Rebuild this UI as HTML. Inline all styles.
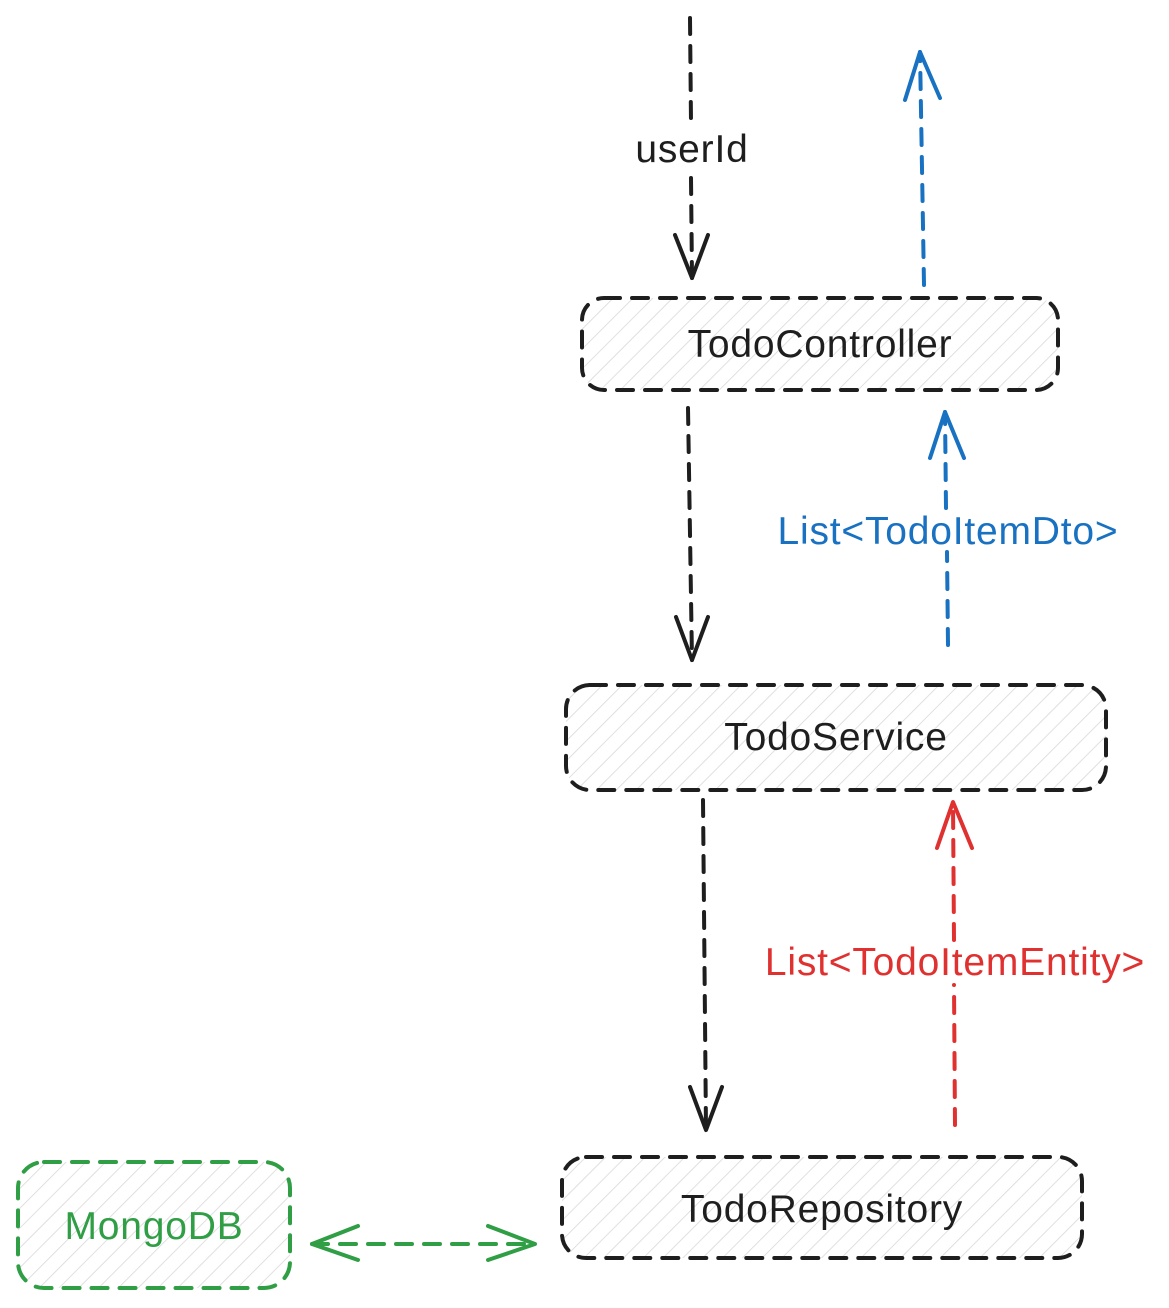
<!DOCTYPE html>
<html><head><meta charset="utf-8"><style>html,body{margin:0;padding:0;background:#fff}svg{display:block}</style></head>
<body>
<svg width="1169" height="1308" viewBox="0 0 1169 1308" xmlns="http://www.w3.org/2000/svg" font-family="Liberation Sans, sans-serif">
<defs>
<pattern id="h" width="14" height="14" patternUnits="userSpaceOnUse" patternTransform="rotate(45)">
<line x1="0" y1="0" x2="0" y2="14" stroke="#d6d6d6" stroke-width="1.5"/>
</pattern>
</defs>
<g stroke-width="4" stroke-dasharray="16 12" fill="url(#h)" stroke-linecap="round">
<rect x="582" y="298" width="476" height="92" rx="22" stroke="#1e1e1e"/>
<rect x="566" y="685" width="540" height="105" rx="24" stroke="#1e1e1e"/>
<rect x="562" y="1157" width="520" height="101" rx="24" stroke="#1e1e1e"/>
<rect x="18" y="1162" width="272" height="126" rx="26" stroke="#2f9e44"/>
</g>
<g font-size="39" letter-spacing="0.8" text-anchor="middle" fill="#1e1e1e">
<text x="820" y="357">TodoController</text>
<text x="836" y="750">TodoService</text>
<text x="822" y="1222">TodoRepository</text>
<text x="154" y="1239" fill="#2f9e44">MongoDB</text>
</g>
<g fill="none" stroke-width="4" stroke-linecap="round" stroke-linejoin="round">
<g stroke="#1e1e1e">
<path d="M690 18 L691 122 M691 178 L692 278" stroke-dasharray="16 12"/>
<path d="M675 235 L692 278 L708 235"/>
<path d="M688 408 L692 660" stroke-dasharray="16 12"/>
<path d="M676 617 L692 660 L708 617"/>
<path d="M703 800 L706 1130" stroke-dasharray="16 12"/>
<path d="M690 1087 L706 1130 L722 1087"/>
</g>
<g stroke="#1971c2">
<path d="M924 285 L920 52" stroke-dasharray="16 12"/>
<path d="M905 100 L920 52 L940 98"/>
<path d="M948 645 L947 552 M946 508 L945 412" stroke-dasharray="16 12"/>
<path d="M930 458 L945 412 L964 458"/>
</g>
<g stroke="#e03131">
<path d="M955 1125 L954 985 M954 940 L953 802" stroke-dasharray="16 12"/>
<path d="M937 848 L953 802 L972 848"/>
</g>
<g stroke="#2f9e44">
<path d="M312 1244 L535 1244" stroke-dasharray="16 12"/>
<path d="M358 1226 L312 1244 L358 1260"/>
<path d="M488 1226 L535 1244 L488 1260"/>
</g>
</g>
<g font-size="39" letter-spacing="0.8" text-anchor="middle">
<text x="692" y="162" fill="#1e1e1e">userId</text>
<text x="948" y="544" fill="#1971c2">List&lt;TodoItemDto&gt;</text>
<text x="955" y="975" fill="#e03131">List&lt;TodoItemEntity&gt;</text>
</g>
</svg>
</body></html>
